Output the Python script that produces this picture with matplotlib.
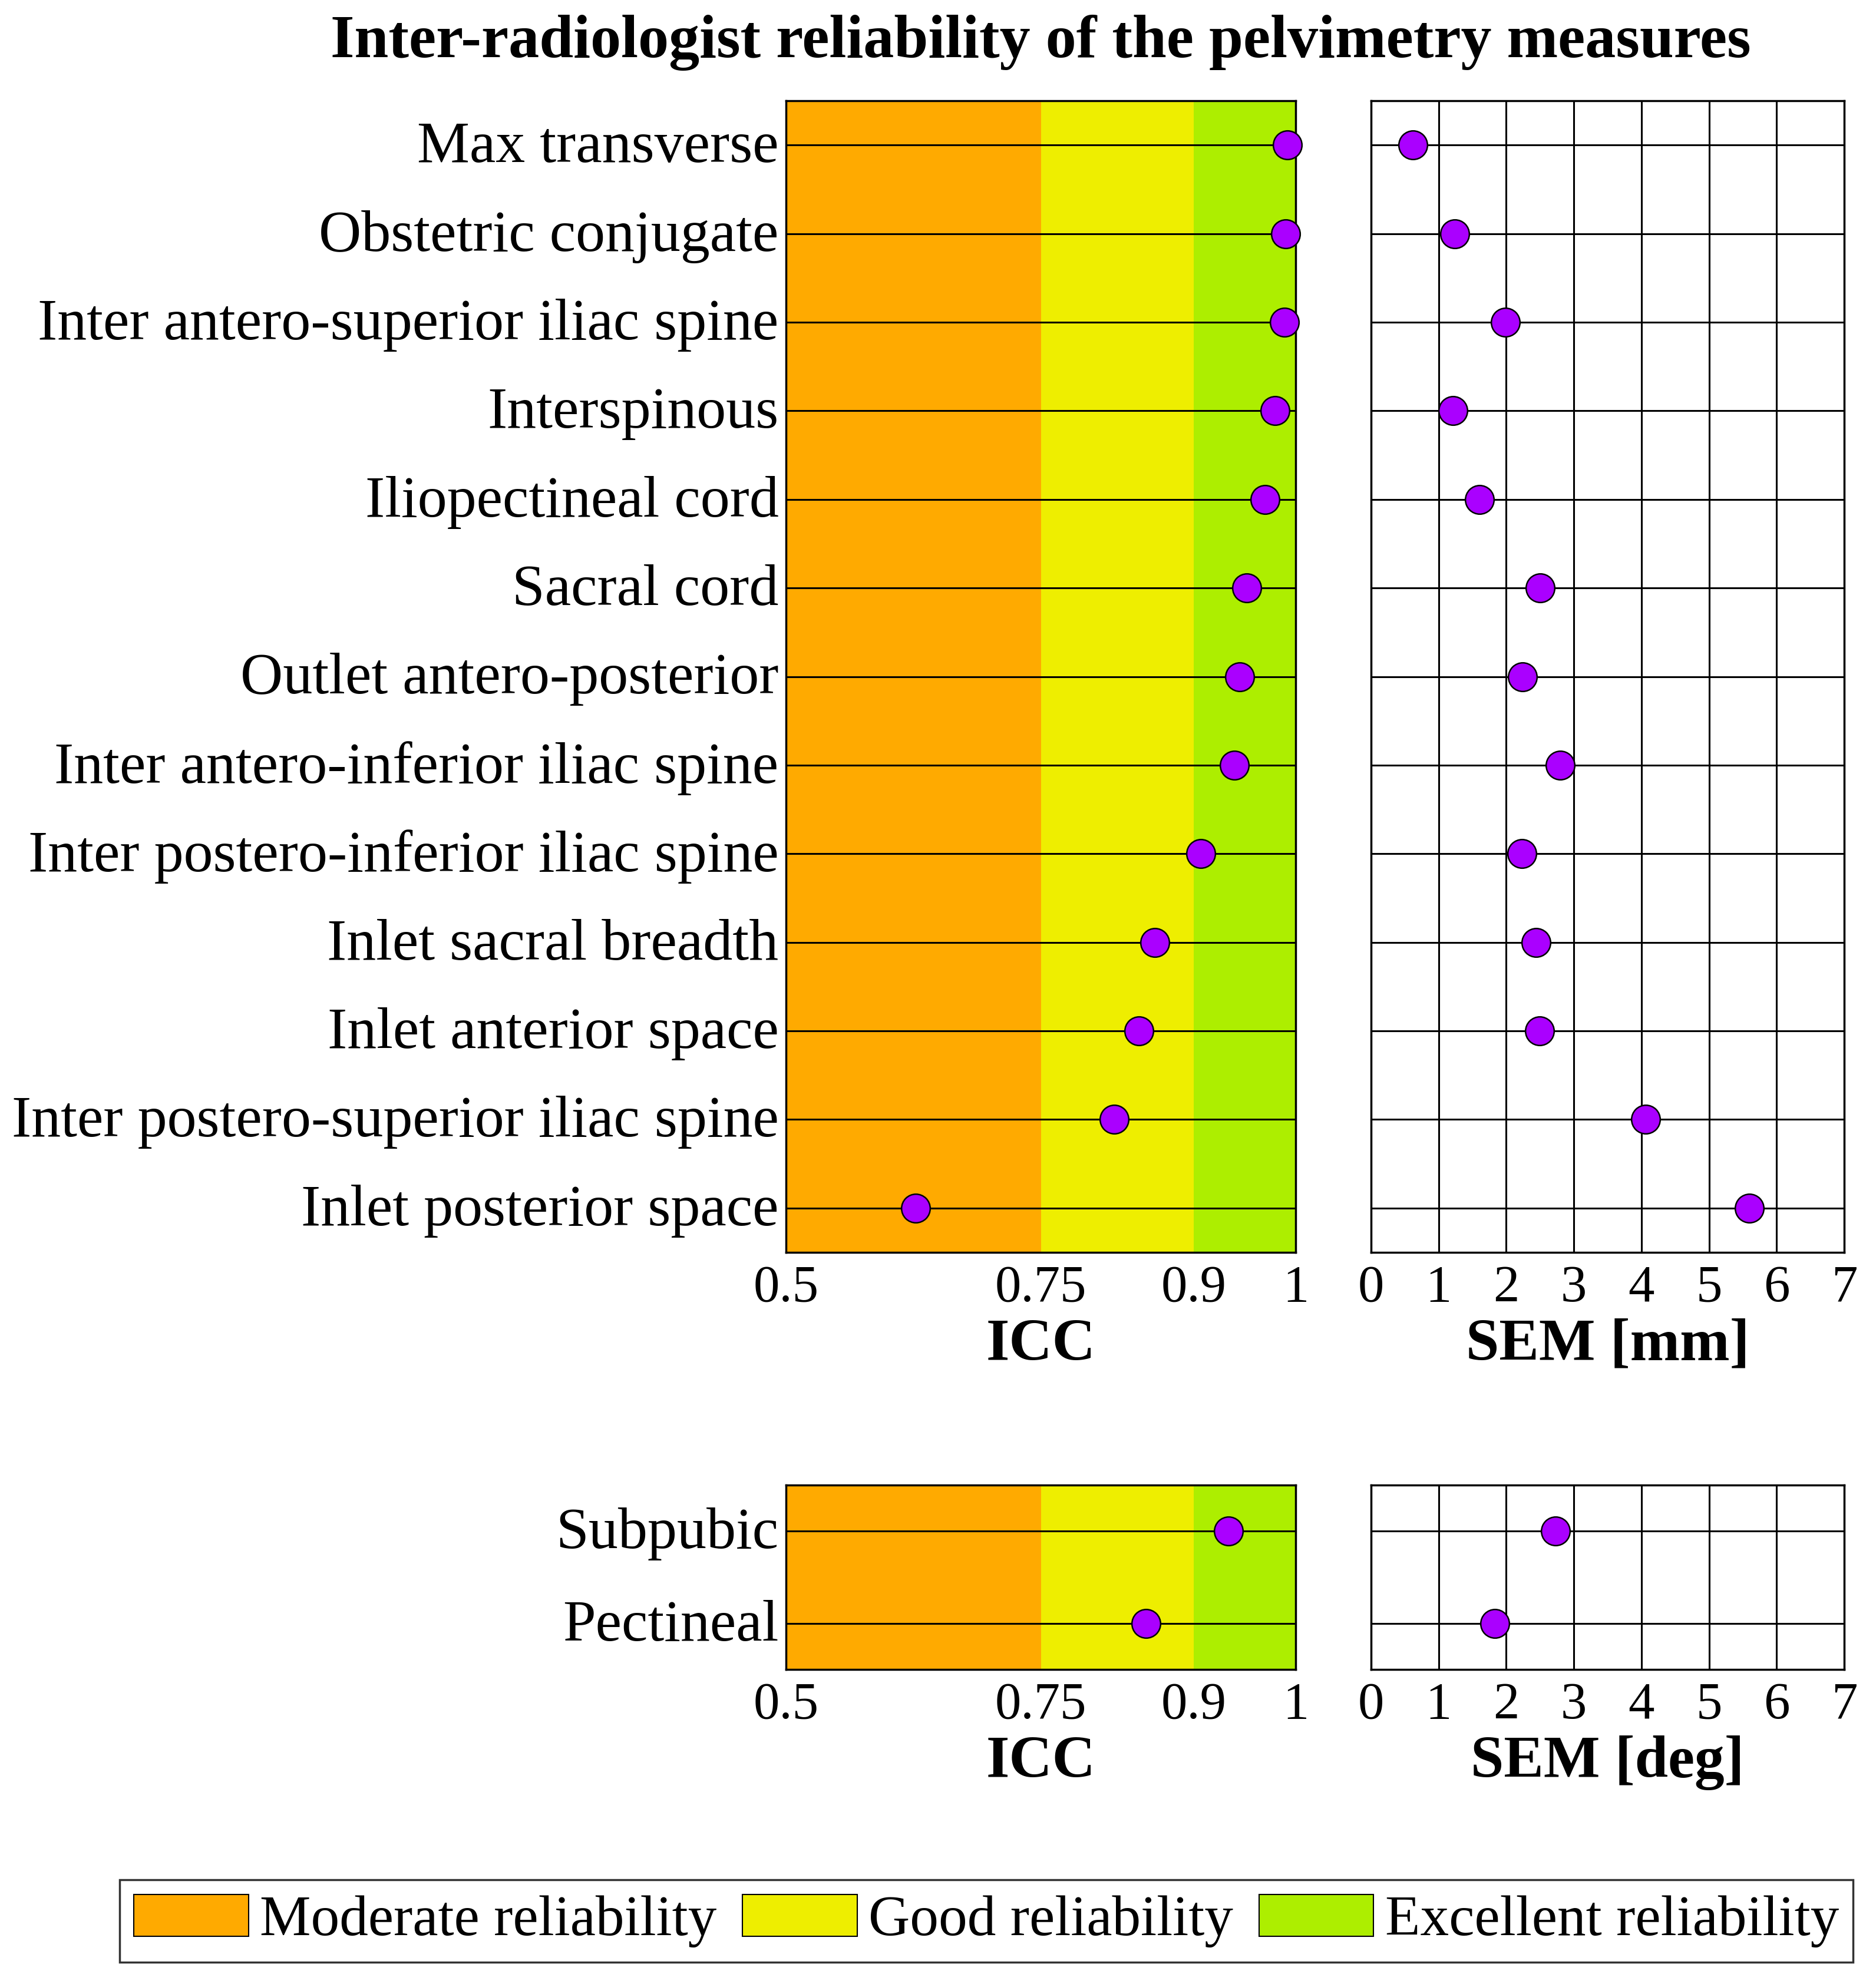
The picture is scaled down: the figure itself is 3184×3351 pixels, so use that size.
import matplotlib
matplotlib.use("agg")
import matplotlib.pyplot as plt
from matplotlib.patches import Patch
from matplotlib.transforms import ScaledTranslation
import numpy as np

# pelvimetry distances (top to bottom)
measures = ["Max transverse", "Obstetric conjugate", "Inter antero-superior iliac spine",
            "Interspinous", "Iliopectineal cord", "Sacral cord", "Outlet antero-posterior",
            "Inter antero-inferior iliac spine", "Inter postero-inferior iliac spine",
            "Inlet sacral breadth", "Inlet anterior space",
            "Inter postero-superior iliac spine", "Inlet posterior space"]
icc = [0.992, 0.990, 0.989, 0.980, 0.970, 0.952, 0.945, 0.940, 0.907, 0.862, 0.846, 0.822, 0.627]
sem_mm = [0.62, 1.24, 1.99, 1.21, 1.60, 2.50, 2.24, 2.80, 2.23, 2.44, 2.49, 4.06, 5.60]

# angles
angles = ["Subpubic", "Pectineal"]
icc_angles = [0.934, 0.853]
sem_deg = [2.73, 1.83]

band_edges = [0.5, 0.75, 0.9, 1.0]
band_names = ["Moderate reliability", "Good reliability", "Excellent reliability"]
band_colors = ["#FFAA00", "#EEEE00", "#ADEE00"]
icc_ticks = [0.5, 0.75, 0.9, 1]
icc_ticklabels = ["0.5", "0.75", "0.9", "1"]
sem_ticks = list(range(8))

plt.rcParams['font.family'] = ['Liberation Serif', 'DejaVu Serif']

W, H = 3184, 3351
fig = plt.figure(figsize=(W / 100, H / 100), dpi=100)


def box(l, t, r, b):
    return [l / W, 1 - b / H, (r - l) / W, (b - t) / H]


DOT = dict(marker='o', ls='none', ms=35, mfc='#AA00FF', mec='black', mew=1.8,
           zorder=4, clip_on=False)


def rows(ax, names):
    y = np.arange(1, len(names) + 1)
    for yi in y:
        ax.axhline(yi, color='black', lw=2.2, zorder=2)
    ax.set_ylim(len(names) + 0.5, 0.5)
    ax.set_yticks(y)
    for s in ax.spines.values():
        s.set_linewidth(2.5)
    ax.tick_params(length=0, labelsize=64, pad=15)
    return y


def icc_panel(ax, names, vals):
    for i in range(3):
        ax.axvspan(band_edges[i], band_edges[i + 1], color=band_colors[i], lw=0, zorder=0)
    y = rows(ax, names)
    ax.plot(vals, y, **DOT)
    ax.set_xlim(0.5, 1)
    ax.set_xticks(icc_ticks, icc_ticklabels)
    ax.set_yticklabels(names, fontsize=72)
    ax.tick_params(axis='y', pad=9)
    # labels sit a little above their row line
    up = ScaledTranslation(0, 4 / 72, fig.dpi_scale_trans)
    for lbl in ax.get_yticklabels():
        lbl.set_transform(lbl.get_transform() + up)
    ax.set_xlabel("ICC", fontsize=73, fontweight='bold', labelpad=7)


def sem_panel(ax, names, vals, unit):
    y = rows(ax, names)
    ax.plot(vals, y, **DOT)
    ax.set_xlim(0, 7)
    ax.set_xticks(sem_ticks)
    ax.set_yticklabels([])
    ax.grid(axis='x', color='black', lw=2.2)
    ax.set_axisbelow(True)
    ax.set_xlabel("SEM [" + unit + "]", fontsize=73, fontweight='bold', labelpad=7)


ax1 = fig.add_axes(box(1334, 171, 2199, 2126))
ax2 = fig.add_axes(box(2327, 171, 3130, 2126))
ax3 = fig.add_axes(box(1334, 2521, 2199, 2834))
ax4 = fig.add_axes(box(2327, 2521, 3130, 2834))

icc_panel(ax1, measures, icc)
sem_panel(ax2, measures, sem_mm, "mm")
icc_panel(ax3, angles, icc_angles)
sem_panel(ax4, angles, sem_deg, "deg")

fig.text(1766 / W, 1 - 72 / H, "Inter-radiologist reliability of the pelvimetry measures",
         fontsize=75, fontweight='bold', ha='center', va='center')

handles = [Patch(facecolor=c, edgecolor='black', lw=1.5) for c in band_colors]
leg = fig.legend(handles, band_names, loc='center', bbox_to_anchor=(1674 / W, 1 - 3261 / H),
                 ncol=3, fontsize=70, frameon=True, fancybox=False, framealpha=1,
                 edgecolor='#333333', handlelength=2.0, handleheight=0.75,
                 handletextpad=0.2, columnspacing=0.45, borderpad=0.25, borderaxespad=0)
leg.get_frame().set_linewidth(2.5)

fig.savefig("out.png", dpi=100)
